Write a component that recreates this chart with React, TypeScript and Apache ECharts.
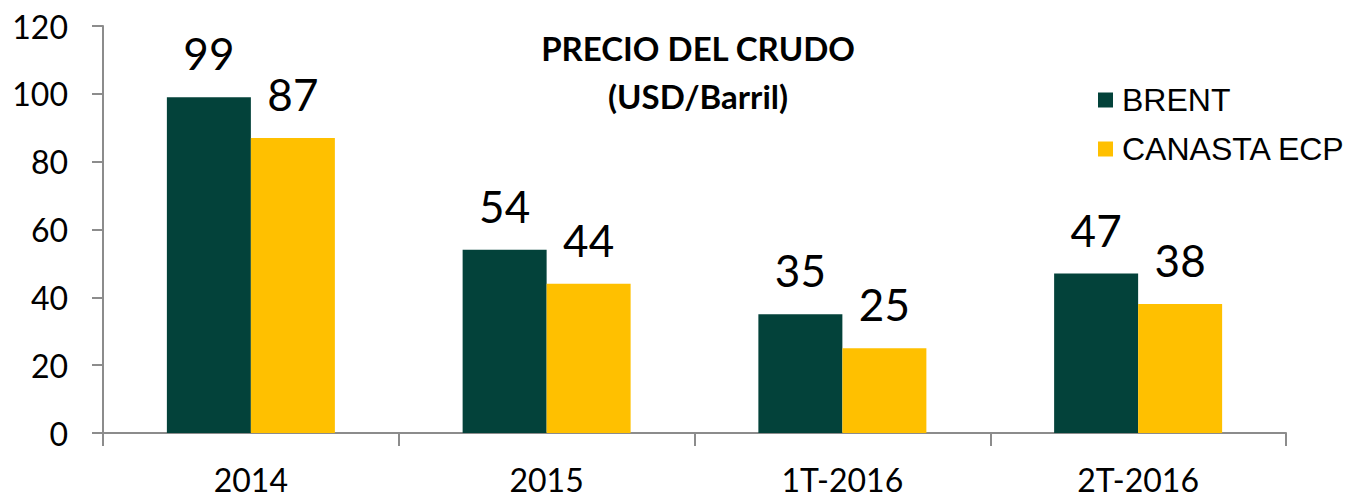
import React, { useEffect, useRef } from "react";
import * as echarts from "echarts";

const categories = ["2014", "2015", "1T-2016", "2T-2016"];
const brent = [99, 54, 35, 47];
const canasta = [87, 44, 25, 38];
const seriesNames = ["BRENT", "CANASTA ECP"];
const titleText = "PRECIO DEL CRUDO\n(USD/Barril)";

export default function App() {
  const ref = useRef<HTMLDivElement>(null);
  useEffect(() => {
    if (!ref.current) return;
    const chart = echarts.init(ref.current, null, { renderer: "svg" });
    const axisColor = "#8c8c8c";
    const labelStyle = {
      show: true,
      position: "top" as const,
      distance: 22,
      fontFamily: "Lato",
      fontSize: 44,
      color: "#000",
    };
    chart.setOption({
      animation: false,
      backgroundColor: "#fff",
      title: {
        text: titleText,
        left: 698,
        top: 24,
        textAlign: "center",
        padding: 0,
        textStyle: {
          fontFamily: "Lato",
          fontWeight: "bold",
          fontSize: 33,
          lineHeight: 48,
          color: "#000",
        },
      },
      legend: {
        orient: "vertical",
        left: 1098,
        top: 84,
        itemWidth: 15,
        itemHeight: 15,
        itemGap: 17,
        padding: 0,
        icon: "rect",
        textStyle: {
          fontFamily: "Liberation Sans",
          fontSize: 32,
          color: "#000",
          padding: [0, 0, 0, 4],
        },
        data: seriesNames,
      },
      grid: { left: 103, right: 63, top: 26, bottom: 64, containLabel: false },
      xAxis: {
        type: "category",
        data: categories,
        axisLine: { lineStyle: { color: axisColor, width: 2 } },
        axisTick: { show: true, length: 13, lineStyle: { color: axisColor, width: 2 } },
        axisLabel: { fontFamily: "Lato", fontSize: 32, color: "#000", margin: 30 },
      },
      yAxis: {
        type: "value",
        min: 0,
        max: 120,
        interval: 20,
        splitLine: { show: false },
        axisLine: { show: true, lineStyle: { color: axisColor, width: 2 } },
        axisTick: { show: true, length: 11, lineStyle: { color: axisColor, width: 2 } },
        axisLabel: { fontFamily: "Lato", fontSize: 32, color: "#000", margin: 35 },
      },
      series: [
        {
          name: seriesNames[0],
          type: "bar",
          data: brent,
          barWidth: 84,
          barGap: "0%",
          itemStyle: { color: "#03423A" },
          label: labelStyle,
        },
        {
          name: seriesNames[1],
          type: "bar",
          data: canasta,
          barWidth: 84,
          barGap: "0%",
          itemStyle: { color: "#FFC000" },
          label: labelStyle,
        },
      ],
    });
    return () => chart.dispose();
  }, []);
  return (
    <div
      ref={ref}
      style={{ position: "fixed", left: 0, top: 0, width: 1349, height: 497 }}
    />
  );
}
